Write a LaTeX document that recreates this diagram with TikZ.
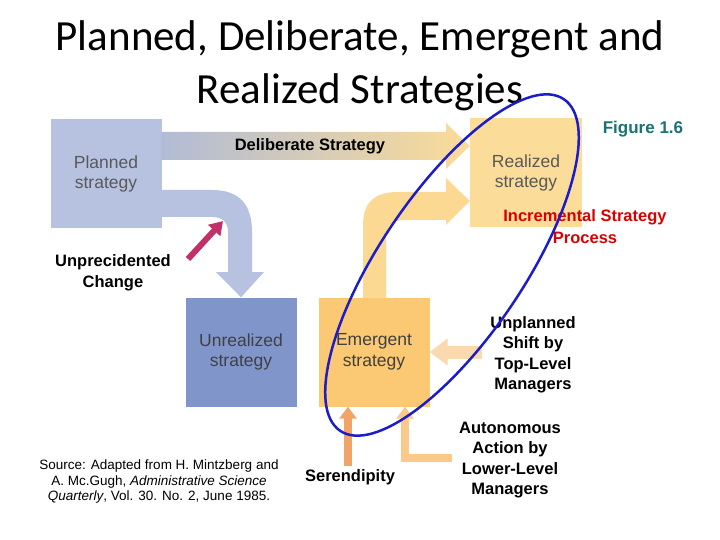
\documentclass[tikz,border=0pt]{standalone}
\usepackage{fontspec}
\setmainfont{Carlito}
\setsansfont{Liberation Sans}
\usetikzlibrary{positioning, shapes.geometric, arrows.meta}
\definecolor{plannedC}{HTML}{B7C2E0}
\definecolor{unrealC}{HTML}{8096CB}
\definecolor{realC}{HTML}{FBDC98}
\definecolor{emergC}{HTML}{FBC873}
\definecolor{peachC}{HTML}{FBD9AE}
\definecolor{sereC}{HTML}{F2A468}
\definecolor{autoC}{HTML}{FBC98A}
\definecolor{changeC}{HTML}{C2306A}
\definecolor{ringC}{HTML}{1C1CC8}
\definecolor{figC}{HTML}{1A7272}
\tikzset{
  box/.style={minimum width=111pt, minimum height=109pt, align=center, inner sep=0pt,
    font=\sffamily\fontsize{17.5}{20.5}\selectfont},
  lbl/.style={align=center, font=\sffamily\bfseries\fontsize{16.5}{20.5}\selectfont}
}
\begin{document}
\begin{tikzpicture}[x=1pt, y=-1pt]
\useasboundingbox (0,0) rectangle (720,540);
% title
\node (title) at (360,66) [align=center, font=\fontsize{43}{53}\selectfont] {Planned, Deliberate, Emergent and\\Realized Strategies};
\node (fig) at (643,129) [font=\sffamily\bfseries\fontsize{17}{18}\selectfont, text=figC] {Figure 1.6};
% boxes
\node [box, fill=plannedC, text=black!65] (planned) at (106,174) {Planned\\strategy};
\node [box, fill=realC, text=black!65, minimum width=112pt] (realized) at (526,173) {Realized\\strategy};
\node [box, fill=unrealC, text=black!75] (unreal) at (241,352) {Unrealized\\strategy};
\node [box, fill=emergC, text=black!75] (emerg) at (374,352) {Emergent\\strategy};
% deliberate strategy
\shade [left color=plannedC!90!gray, right color=realC]
  (planned.east |- 0,132) -- (446,132) -- (446,123) -- (realized.west |- 0,146) -- (446,169) -- (446,160) -- (planned.east |- 0,160) -- cycle;
\node [lbl] (delib) at (310,146) {Deliberate Strategy};
% planned -> unrealized
\fill [plannedC] (planned.east |- 0,190) -- (212,190) .. controls (240,190) and (252,205) .. (252,232)
  -- (252,272) -- (264,272) -- (unreal.north) -- (216,272) -- (228,272) -- (228,232)
  .. controls (228,222) and (222,217) .. (212,217) -- (planned.east |- 0,217) -- cycle;
% emergent -> realized
\fill [realC!85!emergC] (363,298) -- (363,225) .. controls (363,202) and (375,192) .. (398,192) -- (446,192)
  -- (446,178) -- (realized.west |- 0,201) -- (446,225) -- (446,220) -- (405,220)
  .. controls (392,220) and (386,226) .. (386,238) -- (386,298) -- cycle;
% unprecedented change
\node [lbl] (change) at (113,273) {Unprecidented\\Change};
\coordinate (chTip) at (223,221);
\draw [changeC, line width=6pt, -{Triangle[length=13pt, width=16pt]}] (188,259) -- (chTip);
% unplanned shift
\node [lbl] (shift) at (533,355) {Unplanned\\Shift by\\Top-Level\\Managers};
\draw [peachC, line width=13pt, -{Triangle[length=18pt, width=26pt]}] (482,352) -- (emerg.east |- 0,352);
% serendipity
\node [lbl] (seren) at (350,477) {Serendipity};
\draw [sereC, line width=8pt, -{Triangle[length=12pt, width=17pt]}] (348,466) -- (emerg.south -| 348,0);
% autonomous action
\node [lbl] (auton) at (510,460) {Autonomous\\Action by\\Lower-Level\\Managers};
\draw [autoC, line width=8pt, -{Triangle[length=12pt, width=17pt]}] (452,458) -- (405,458) -- (emerg.south -| 405,0);
% incremental
\node (incr) at (585,227) [align=center, text=red!85!black, font=\sffamily\bfseries\fontsize{16.5}{22}\selectfont] {Incremental Strategy\\Process};
% ring
\draw [ringC, line width=2.5pt] (452,265) ellipse [x radius=200pt, y radius=72pt, rotate=56];
% source
\node (src) at (159,482) [align=center, font=\sffamily\fontsize{13.5}{15.5}\selectfont] {Source: Adapted from H. Mintzberg and\\A. Mc.Gugh, \textit{Administrative Science}\\\textit{Quarterly}, Vol. 30. No. 2, June 1985.};
\end{tikzpicture}
\end{document}
